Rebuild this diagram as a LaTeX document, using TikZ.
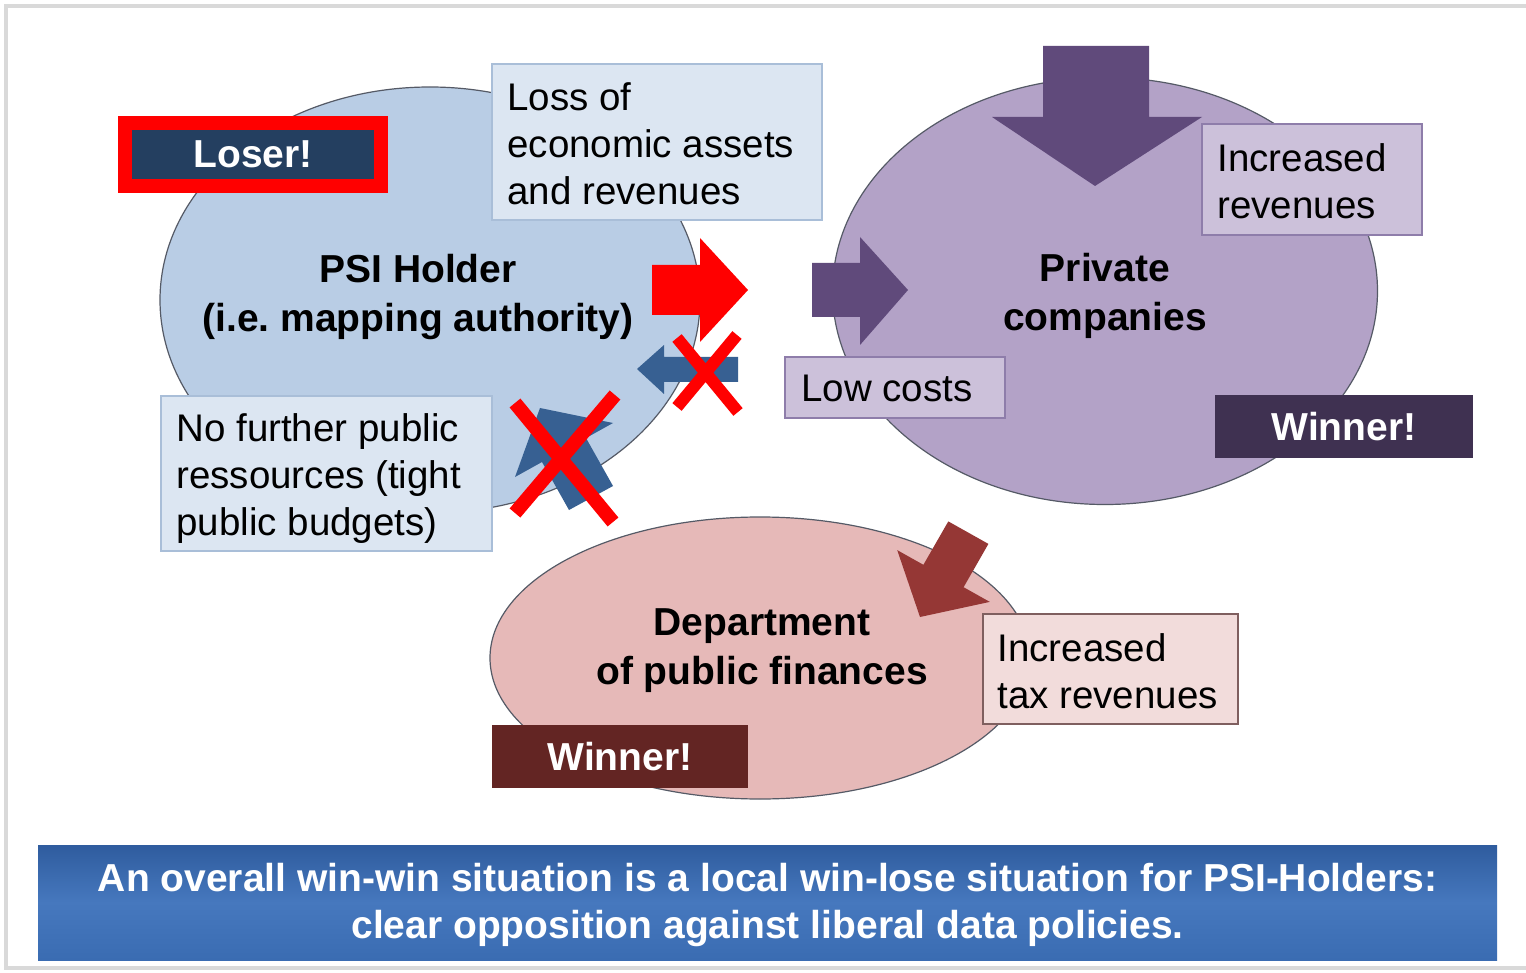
\documentclass[tikz,border=0pt]{standalone}
\usepackage{fontspec}
\setmainfont{Liberation Sans}
\usetikzlibrary{shapes.geometric}
\definecolor{framegrey}{HTML}{D9D9D9}
\definecolor{psiblue}{HTML}{B9CDE5}
\definecolor{lightblue}{HTML}{DCE6F2}
\definecolor{boxblueline}{HTML}{A9BED8}
\definecolor{privpurple}{HTML}{B3A2C7}
\definecolor{lightpurple}{HTML}{CCC1DA}
\definecolor{purpleline}{HTML}{8E7DAA}
\definecolor{darkpurple}{HTML}{604A7B}
\definecolor{winpurple}{HTML}{3F3151}
\definecolor{deppink}{HTML}{E6B9B8}
\definecolor{lightpink}{HTML}{F2DCDB}
\definecolor{pinkline}{HTML}{7F5F5F}
\definecolor{darkred}{HTML}{953735}
\definecolor{winred}{HTML}{632523}
\definecolor{navy}{HTML}{243F60}
\definecolor{steel}{HTML}{376092}
\definecolor{ellline}{HTML}{555A66}
\definecolor{bannertop}{HTML}{2F5C9E}
\definecolor{bannermid}{HTML}{4678BE}
\definecolor{bannerbot}{HTML}{3A6CB2}
\begin{document}
\frenchspacing
\begin{tikzpicture}[x=1pt,y=-1pt,
  ell/.style={ellipse, draw=ellline, line width=1.2pt, inner sep=0pt},
  panel/.style={rectangle, inner sep=0pt, line width=1.5pt},
  txt/.style={inner sep=0pt, align=left, font=\fontsize{38.5}{47}\selectfont},
  bold/.style={inner sep=0pt, align=center, font=\fontsize{39}{49}\selectfont\bfseries},
  badge/.style={rectangle, inner sep=0pt, text=white, font=\fontsize{39}{47}\selectfont\bfseries},
  cross/.style={draw=red, line width=14pt}
]
\useasboundingbox (0,0) rectangle (1526,973);
\fill[white] (0,0) rectangle (1526,973);
\draw[framegrey, line width=4pt] (1526,6) -- (6,6) -- (6,968) -- (1526,968);

% ellipses
\node[ell, fill=psiblue, minimum width=540pt, minimum height=426pt] (psi) at (430,300) {};
\node[ell, fill=privpurple, minimum width=545pt, minimum height=427pt] (priv) at (1105,291) {};
\node[ell, fill=deppink, minimum width=540pt, minimum height=282pt] (dep) at (760,658) {};

% ellipse labels
\node[bold] (psiT) at (418,297) {PSI Holder\\(i.e. mapping authority)};
\node[bold] (privT) at (1105,296) {Private\\companies};
\node[bold] (depT) at (762,651) {Department\\of public finances};

% block arrows
\fill[red] (652,265) -- (700,265) -- (700,238) -- (748,290) -- (700,342) -- (700,315) -- (652,315) -- cycle;
\fill[steel] (738,357) -- (664,357) -- (664,345) -- (637,369) -- (664,394) -- (664,382) -- (738,382) -- cycle;
\fill[steel] (540,408) -- (613,423) -- (586,438) -- (613,486) -- (569,510) -- (542,462) -- (515,477) -- cycle;
\fill[darkpurple] (1043,46) -- (1149,46) -- (1149,117) -- (1202,117) -- (1095,186) -- (992,117) -- (1043,117) -- cycle;
\fill[darkpurple] (812,263) -- (860,263) -- (860,237) -- (908,290) -- (860,345) -- (860,317) -- (812,317) -- cycle;
\fill[darkred] (920,617) -- (989.8,601.9) -- (963.6,587.2) -- (988.4,543.9) -- (948.3,521.4) -- (923.4,564.8) -- (897.2,550.1) -- cycle;

% crosses
\draw[cross] (515,403) -- (613,522) (615,395) -- (515,513);
\draw[cross, line width=12pt] (677,338) -- (738,412) (737,335) -- (677,407);

% text boxes
\node[panel, fill=lightblue, draw=boxblueline, minimum width=330pt, minimum height=156pt] (loss) at (657,142) {};
\node[txt, anchor=west] (lossT) at ([xshift=16pt,yshift=-2pt]loss.west) {Loss of\\economic assets\\and revenues};

\node[panel, fill=lightpurple, draw=purpleline, minimum width=220pt, minimum height=111pt] (rev) at (1312,179.5) {};
\node[txt, anchor=west] (revT) at ([xshift=16pt,yshift=-1.5pt]rev.west) {Increased\\revenues};

\node[panel, fill=lightpurple, draw=purpleline, minimum width=220pt, minimum height=61pt] (low) at (895,387.5) {};
\node[txt, anchor=west] (lowT) at ([xshift=17pt,yshift=-1pt]low.west) {Low costs};

\node[panel, fill=lightblue, draw=boxblueline, minimum width=331pt, minimum height=155pt] (nof) at (326.5,473.5) {};
\node[txt, anchor=west] (nofT) at ([xshift=16pt,yshift=-5pt]nof.west) {No further public\\ressources (tight\\public budgets)};

\node[panel, fill=lightpink, draw=pinkline, minimum width=255pt, minimum height=110pt] (tax) at (1110.5,669) {};
\node[txt, anchor=west] (taxT) at ([xshift=15pt,yshift=-2.5pt]tax.west) {Increased\\tax revenues};

% badges
\node[badge, fill=navy, draw=red, line width=14pt, minimum width=256pt, minimum height=63pt] (loser) at (253,154.5) {Loser!};
\node[badge, fill=winpurple, minimum width=258pt, minimum height=63pt] (winP) at (1344,426.5) {Winner!};
\node[badge, fill=winred, minimum width=256pt, minimum height=63pt] (winR) at (620,756.5) {Winner!};

% banner
\node[rectangle, inner sep=0pt, minimum width=1459pt, minimum height=115pt,
  top color=bannertop, bottom color=bannerbot, middle color=bannermid] (banner) at (767.5,902.5) {};
\node[inner sep=0pt, align=center, text=white, font=\fontsize{39}{47}\selectfont\bfseries] (bannerT) at (767.5,905)
  {An overall win-win situation is a local win-lose situation for PSI-Holders:\\clear opposition against liberal data policies.};
\end{tikzpicture}
\end{document}
